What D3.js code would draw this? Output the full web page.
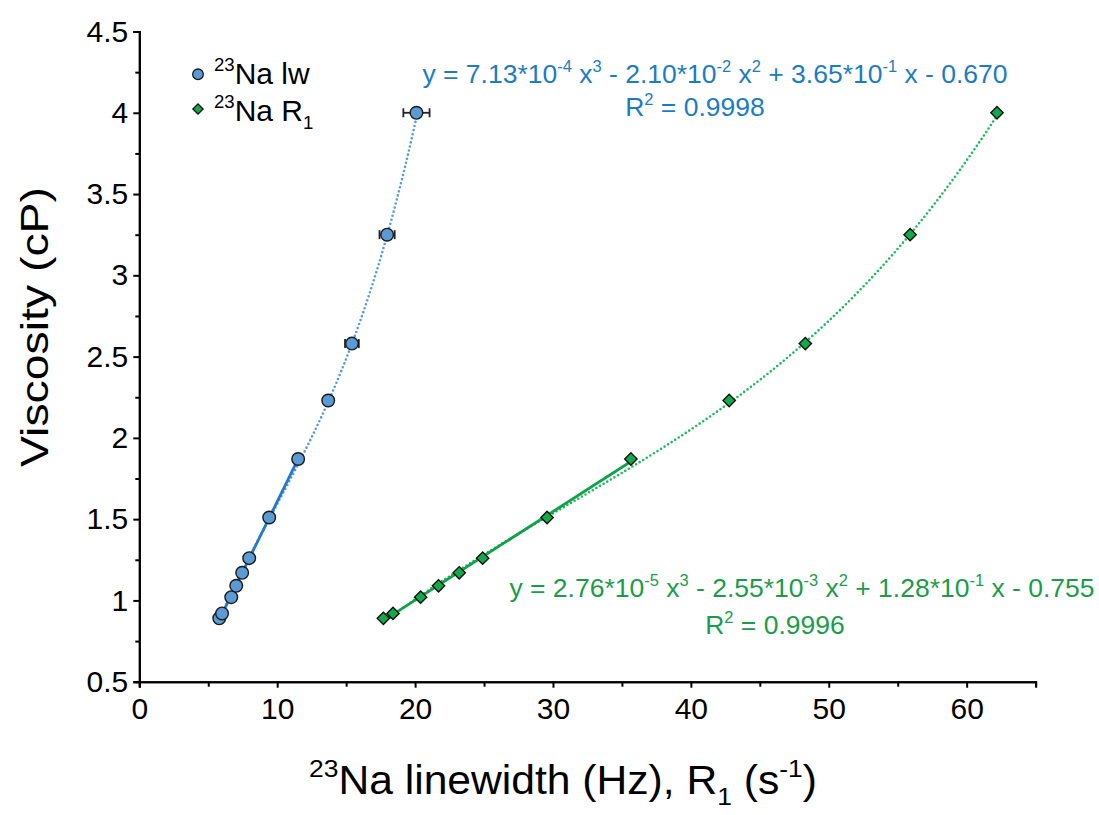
<!DOCTYPE html>
<html>
<head>
<meta charset="utf-8">
<script src="https://cdn.jsdelivr.net/npm/d3@7"></script>
<style>
  html, body { margin: 0; padding: 0; background: #fff; }
  svg { display: block; font-family: "Liberation Sans", Arial, sans-serif; }
</style>
</head>
<body>
<svg id="chart" width="1099" height="815"></svg>
<script>
// Viscosity standards and the two 23Na observables measured on them
const viscosity = [0.89, 0.92, 1.02, 1.09, 1.17, 1.26, 1.51, 1.87, 2.23, 2.58, 3.25, 4.00];
const linewidth = [5.8, 6.0, 6.67, 7.03, 7.46, 7.97, 9.42, 11.52, 13.7, 15.42, 17.97, 20.1];
const linewidthErr = [0.1, 0.1, 0.1, 0.1, 0.1, 0.1, 0.15, 0.2, 0.3, 0.5, 0.55, 0.95];
const r1 = [17.7, 18.4, 20.4, 21.7, 23.2, 24.9, 29.57, 35.65, 42.78, 48.3, 55.9, 62.2];

// Cubic fit coefficients [a3, a2, a1, a0]
const lwFit = [7.13e-4, -2.10e-2, 3.65e-1, -0.670];
const r1Fit = [2.76e-5, -2.55e-3, 1.28e-1, -0.755];
// number of low-viscosity points used for the straight-line fits
const linearCount = 8;

const yTicks = [0.5, 1, 1.5, 2, 2.5, 3, 3.5, 4, 4.5];
const xTicks = [0, 10, 20, 30, 40, 50, 60];

const svg = d3.select("#chart");
const plotL = 139.3, plotR = 1035.6, plotT = 31.5, plotB = 681.7;

const x = d3.scaleLinear().domain([0, 65]).range([plotL, plotR]);
const y = d3.scaleLinear().domain([0.5, 4.5]).range([plotB, plotT]);

const blue = "#5b9bd5", blueLine = "#2479c9", blueText = "#1c7cc2";
const green = "#12a84c", greenLine = "#0fa24b", greenText = "#1a9c4a";

// ---- axes ----
const yAxis = d3.axisLeft(y).tickValues(yTicks).tickFormat(d => String(d)).tickSize(6).tickPadding(5);
const yMinor = d3.axisLeft(y).tickValues(d3.range(0.75, 4.5, 0.5)).tickFormat("").tickSize(4);
const xAxis = d3.axisBottom(x).tickValues(xTicks).tickFormat(d => String(d)).tickSize(6);
const xMinor = d3.axisBottom(x).tickValues(d3.range(5, 66, 10)).tickFormat("").tickSize(5);

function styleAxis(g) {
  g.selectAll("path.domain").attr("stroke", "#000").attr("stroke-width", 2);
  g.selectAll(".tick line").attr("stroke", "#000").attr("stroke-width", 2);
}

svg.append("g").attr("transform", `translate(${plotL},0)`).call(yMinor).call(styleAxis);
const gy = svg.append("g").attr("transform", `translate(${plotL},0)`).call(yAxis).call(styleAxis);
gy.selectAll(".tick text").attr("font-size", 30).attr("fill", "#000")
  .attr("font-family", "Liberation Sans, Arial, sans-serif");

svg.append("g").attr("transform", `translate(0,${plotB})`).call(xMinor).call(styleAxis);
const gx = svg.append("g").attr("transform", `translate(0,${plotB})`).call(xAxis).call(styleAxis);
gx.selectAll(".tick text").attr("font-size", 30).attr("fill", "#000")
  .attr("font-family", "Liberation Sans, Arial, sans-serif")
  .attr("dy", null).attr("y", 37);

// ---- rich text helper (superscripts / subscripts) ----
function richText(parent, parts, opts) {
  const t = parent.append("text")
    .attr("x", opts.x).attr("y", opts.y)
    .attr("font-size", opts.size)
    .attr("fill", opts.fill || "#000")
    .attr("text-anchor", opts.anchor || "start");
  if (opts.transform) t.attr("transform", opts.transform);
  if (opts.length) t.attr("textLength", opts.length).attr("lengthAdjust", "spacingAndGlyphs");
  let shift = 0;
  parts.forEach(([txt, mode]) => {
    const s = t.append("tspan").text(txt);
    let target = 0;
    if (mode === "sup") target = -0.42 * opts.size;
    if (mode === "sub") target = 0.28 * opts.size;
    if (target !== shift) s.attr("dy", target - shift);
    shift = target;
    if (mode) s.attr("font-size", opts.size * 0.62);
  });
  return t;
}

// ---- fitted curves ----
const cubic = c => v => c[0] * v * v * v + c[1] * v * v + c[2] * v + c[3];
const line = d3.line().x(d => x(d[0])).y(d => y(d[1]));

function drawCubic(xs, coeffs, color) {
  const f = cubic(coeffs);
  const [lo, hi] = d3.extent(xs);
  const pts = d3.range(0, 201).map(i => { const v = lo + (hi - lo) * i / 200; return [v, f(v)]; });
  svg.append("path").attr("d", line(pts)).attr("fill", "none")
    .attr("stroke", color).attr("stroke-width", 2.6)
    .attr("stroke-dasharray", "0,4.2").attr("stroke-linecap", "round");
}

function drawLinear(xs, ys, color) {
  const px = xs.slice(0, linearCount), py = ys.slice(0, linearCount);
  const mx = d3.mean(px), my = d3.mean(py);
  const slope = d3.sum(px, (v, i) => (v - mx) * (py[i] - my)) / d3.sum(px, v => (v - mx) * (v - mx));
  const icpt = my - slope * mx;
  const [lo, hi] = d3.extent(px);
  svg.append("path").attr("d", line([[lo, slope * lo + icpt], [hi, slope * hi + icpt]]))
    .attr("fill", "none").attr("stroke", color).attr("stroke-width", 2.8);
}

drawCubic(linewidth, lwFit, blue);
drawCubic(r1, r1Fit, "#1dbb5c");
drawLinear(linewidth, viscosity, blueLine);
drawLinear(r1, viscosity, greenLine);

// ---- error bars on the linewidth series ----
const eb = svg.append("g").attr("stroke", "#222").attr("stroke-width", 1.8);
linewidth.forEach((v, i) => {
  const e = linewidthErr[i], cy = y(viscosity[i]);
  eb.append("line").attr("x1", x(v - e)).attr("x2", x(v + e)).attr("y1", cy).attr("y2", cy);
  [v - e, v + e].forEach(end => eb.append("line")
    .attr("x1", x(end)).attr("x2", x(end)).attr("y1", cy - 4.5).attr("y2", cy + 4.5));
});

// ---- markers ----
svg.append("g").selectAll("circle").data(linewidth).join("circle")
  .attr("cx", d => x(d)).attr("cy", (d, i) => y(viscosity[i])).attr("r", 6.3)
  .attr("fill", blue).attr("stroke", "#1a1a1a").attr("stroke-width", 1.4);

const diamond = d3.symbol().type(d3.symbolSquare).size(76);
svg.append("g").selectAll("path").data(r1).join("path")
  .attr("d", diamond)
  .attr("transform", (d, i) => `translate(${x(d)},${y(viscosity[i])}) rotate(45)`)
  .attr("fill", green).attr("stroke", "#111").attr("stroke-width", 1.4);

// ---- legend ----
svg.append("circle").attr("cx", 198).attr("cy", 74.3).attr("r", 5.3)
  .attr("fill", blue).attr("stroke", "#1a1a1a").attr("stroke-width", 1.3);
svg.append("path").attr("d", d3.symbol().type(d3.symbolSquare).size(52))
  .attr("transform", "translate(198,109) rotate(45)")
  .attr("fill", green).attr("stroke", "#111").attr("stroke-width", 1.3);
richText(svg, [["23", "sup"], ["Na lw", ""]], { x: 214, y: 84, size: 30 });
richText(svg, [["23", "sup"], ["Na R", ""], ["1", "sub"]], { x: 214, y: 121, size: 30 });

// ---- fit equations ----
richText(svg, [["y = 7.13*10", ""], ["-4", "sup"], [" x", ""], ["3", "sup"], [" - 2.10*10", ""], ["-2", "sup"],
  [" x", ""], ["2", "sup"], [" + 3.65*10", ""], ["-1", "sup"], [" x - 0.670", ""]],
  { x: 715, y: 83, size: 26.5, fill: blueText, anchor: "middle" });
richText(svg, [["R", ""], ["2", "sup"], [" = 0.9998", ""]],
  { x: 695, y: 116, size: 26.5, fill: blueText, anchor: "middle" });

richText(svg, [["y = 2.76*10", ""], ["-5", "sup"], [" x", ""], ["3", "sup"], [" - 2.55*10", ""], ["-3", "sup"],
  [" x", ""], ["2", "sup"], [" + 1.28*10", ""], ["-1", "sup"], [" x - 0.755", ""]],
  { x: 802, y: 597, size: 26.5, fill: greenText, anchor: "middle" });
richText(svg, [["R", ""], ["2", "sup"], [" = 0.9996", ""]],
  { x: 775, y: 634, size: 26.5, fill: greenText, anchor: "middle" });

// ---- axis titles ----
richText(svg, [["Viscosity (cP)", ""]],
  { x: 0, y: 0, size: 38, anchor: "middle", length: 280, transform: "translate(48,327) rotate(-90)" });
richText(svg, [["23", "sup"], ["Na linewidth (Hz), R", ""], ["1", "sub"], [" (s", ""], ["-1", "sup"], [")", ""]],
  { x: 0, y: 0, size: 40, anchor: "middle", length: 508, transform: "translate(563,794)" });
</script>
</body>
</html>
